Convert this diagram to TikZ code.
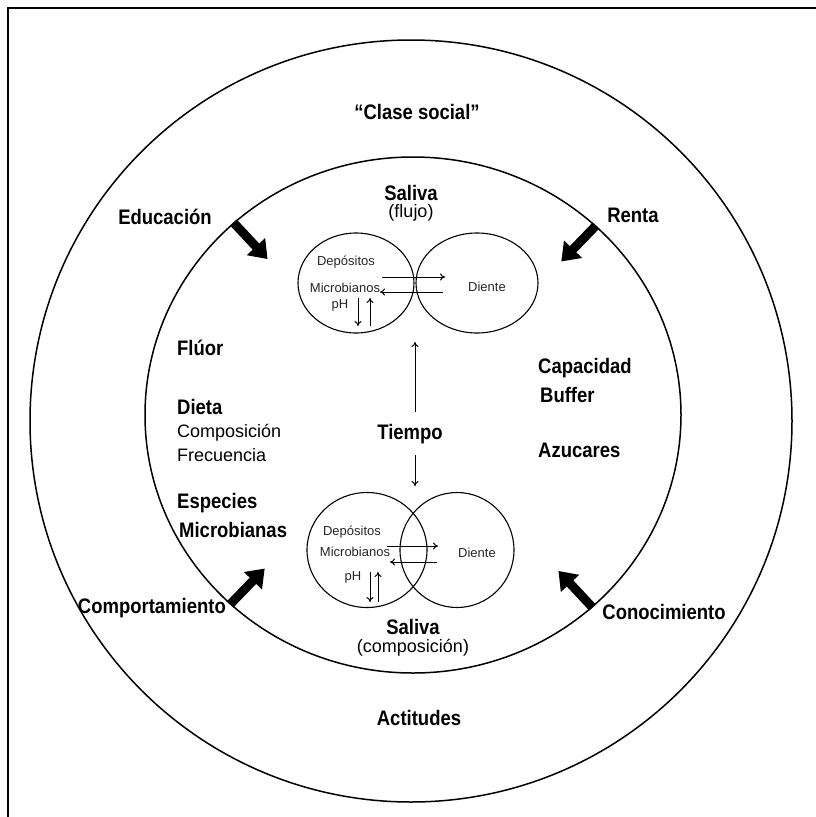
\documentclass[tikz,border=0pt]{standalone}
\usepackage{fontspec}
\setmainfont{Liberation Sans}
\newfontfamily\narrowsans[FakeStretch=0.88]{Liberation Sans}
\usetikzlibrary{arrows.meta,positioning,shapes.geometric,calc}
\tikzset{
  ring/.style={circle, draw, line width=1.5pt, inner sep=0pt},
  oval/.style={ellipse, draw, line width=1.1pt, inner sep=0pt},
  factor/.style={font=\fontsize{21}{23}\narrowsans\bfseries, inner sep=0pt},
  plain/.style={font=\fontsize{18}{20}\selectfont, inner sep=0pt},
  tiny/.style={font=\fontsize{13}{14}\selectfont, inner sep=0pt, text=black!85},
  bigarrow/.style={-{Triangle[length=17pt,width=24pt]}, line width=9pt},
  arrow/.style={-{To[length=5pt,width=7pt]}, line width=1pt}
}

\begin{document}
\begin{tikzpicture}[x=1pt, y=-1pt]
  \useasboundingbox (0,0) rectangle (816,817);
  \draw[line width=1.5pt] (8,817) -- (8,8) -- (816,8);

  % rings
  \node[ring, minimum size=762pt] (outer) at (411,421) {};
  \node[ellipse, draw, line width=1.5pt, inner sep=0pt,
        minimum width=536pt, minimum height=516pt] (inner) at (413,415) {};
  \node[oval, minimum width=116pt, minimum height=100pt] (depA) at (356,283) {};
  \node[oval, minimum width=122pt, minimum height=100pt] (dienteA) at (477,283) {};
  \node[oval, minimum width=120pt, minimum height=115pt] (depB) at (367,550) {};
  \node[oval, minimum width=114pt, minimum height=115pt] (dienteB) at (457,550) {};

  % outer factors
  \node[factor] (clase) at (417,112) {“Clase social”};
  \node[factor] (edu) at (165,217) {Educación};
  \node[factor] (renta) at (633,215) {Renta};
  \node[factor, anchor=east] (comport) at (226,608) {Comportamiento};
  \node[factor] (conoc) at (664,612) {Conocimiento};
  \node[factor] (actit) at (419,718) {Actitudes};

  % inner factors
  \node[factor] (salivaA) at (411,193) {Saliva};
  \node[plain] (flujo) at (411,213) {(flujo)};
  \node[factor, anchor=west] (fluor) at (177,348) {Flúor};
  \node[factor, anchor=west] (dieta) at (177,407) {Dieta};
  \node[plain, anchor=west] (compo) at (177,433) {Composición};
  \node[plain, anchor=west] (frec) at (177,455) {Frecuencia};
  \node[factor, anchor=west] (especies) at (177,503) {Especies};
  \node[factor, anchor=west] (microb) at (179,530) {Microbianas};
  \node[factor, anchor=west] (capac) at (538,368) {Capacidad};
  \node[factor, anchor=west] (buffer) at (540,395) {Buffer};
  \node[factor, anchor=west] (azuc) at (538,450) {Azucares};
  \node[factor] (tiempo) at (410,434) {Tiempo};
  \node[factor] (salivaB) at (413,627) {Saliva};
  \node[plain] (composic) at (413,648) {(composición)};

  % plaque and tooth, top
  \node[tiny] (depoA) at (346,262) {Depósitos};
  \node[tiny] (microA) at (345,288) {Microbianos};
  \node[tiny] (phA) at (340,305) {pH};
  \node[tiny] (toothA) at (487,287) {Diente};
  % plaque and tooth, bottom
  \node[tiny] (depoB) at (352,532) {Depósitos};
  \node[tiny] (microB) at (355,552) {Microbianos};
  \node[tiny] (phB) at (353,577) {pH};
  \node[tiny] (toothB) at (477,553) {Diente};

  % arrow ends
  \coordinate (a1) at (382,277); \coordinate (a2) at (445,277);
  \coordinate (a3) at (443,292); \coordinate (a4) at (380,292);
  \coordinate (a5) at (358,298); \coordinate (a6) at (358,326);
  \coordinate (a7) at (370,326); \coordinate (a8) at (370,298);
  \coordinate (b1) at (387,546); \coordinate (b2) at (438,546);
  \coordinate (b3) at (437,562); \coordinate (b4) at (390,562);
  \coordinate (b5) at (370,572); \coordinate (b6) at (370,602);
  \coordinate (b7) at (378,602); \coordinate (b8) at (378,572);
  \coordinate (t1) at (415,412); \coordinate (t2) at (415,342);
  \coordinate (t3) at (415,455); \coordinate (t4) at (415,486);

  \draw[arrow] (a1) -- (a2);
  \draw[arrow] (a3) -- (a4);
  \draw[arrow] (a5) -- (a6);
  \draw[arrow] (a7) -- (a8);
  \draw[arrow] (b1) -- (b2);
  \draw[arrow] (b3) -- (b4);
  \draw[arrow] (b5) -- (b6);
  \draw[arrow] (b7) -- (b8);
  \draw[arrow] (t1) -- (t2);
  \draw[arrow] (t3) -- (t4);

  % thick arrows from the ring inward
  \coordinate (eduH) at ($(inner.133)!50pt!(inner.center)$);
  \coordinate (rentaH) at ($(inner.46)!50pt!(inner.center)$);
  \coordinate (compH) at ($(inner.226)!50pt!(inner.center)$);
  \coordinate (conocH) at ($(inner.313)!50pt!(inner.center)$);
  \draw[bigarrow] (inner.133) -- (eduH);
  \draw[bigarrow] (inner.46) -- (rentaH);
  \draw[bigarrow] (inner.226) -- (compH);
  \draw[bigarrow] (inner.313) -- (conocH);
\end{tikzpicture}
\end{document}
